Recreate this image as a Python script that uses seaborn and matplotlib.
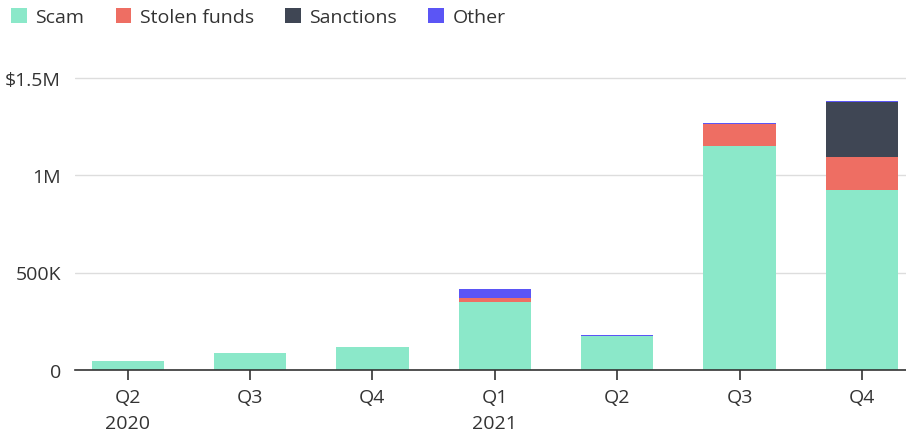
import matplotlib
matplotlib.use("Agg")
import matplotlib.pyplot as plt
import seaborn as sns
import pandas as pd
import numpy as np
from matplotlib.patches import Patch

quarters = ["Q2\n2020", "Q3", "Q4", "Q1\n2021", "Q2", "Q3", "Q4"]
quarter_keys = ["2020Q2", "2020Q3", "2020Q4", "2021Q1", "2021Q2", "2021Q3", "2021Q4"]
scam = [48000, 87000, 118000, 349000, 174000, 1149000, 923000]
stolen = [0, 0, 0, 20000, 0, 113000, 169000]
sanctions = [0, 0, 0, 0, 0, 0, 284000]
other = [0, 0, 0, 46000, 3000, 7000, 5000]

series = ["Scam", "Stolen funds", "Sanctions", "Other"]
colors = ["#8be8c9", "#ee6e63", "#3f4654", "#5b55f5"]

sns.set_theme(style="white")
plt.rcParams["font.family"] = ["Open Sans", "DejaVu Sans"]

fig = plt.figure(figsize=(9.06, 4.39), dpi=100)
ax = fig.add_axes([75/906, 1-371/439, 831/906, 312/439])

vals = np.array([scam, stolen, sanctions, other], dtype=float)
cum = np.cumsum(vals, axis=0)
df = pd.DataFrame({"quarter": quarter_keys})
for i in range(3, -1, -1):
    df["v"] = cum[i]
    sns.barplot(data=df, x="quarter", y="v", color=colors[i], width=0.59,
                saturation=1, ax=ax, order=quarter_keys, errorbar=None,
                linewidth=0, edgecolor="none")

ax.set_xlim(-0.43, 6.36)
ax.set_ylim(0, 1.6e6)
ax.set_xticks(range(len(quarters)))
ax.set_xticklabels(quarters)
ax.set_yticks([0, 500000, 1000000, 1500000])
ax.set_yticklabels(["0", "500K", "1M", "$1.5M"])
ax.yaxis.grid(True, color="#dddddd", linewidth=1)
ax.set_axisbelow(True)
for s in ["top", "right", "left"]:
    ax.spines[s].set_visible(False)
ax.spines["bottom"].set_color("#333333")
ax.spines["bottom"].set_linewidth(1.2)
ax.set_xlabel("")
ax.set_ylabel("")
ax.tick_params(axis="x", bottom=True, length=7, width=1.2, color="#333333",
               labelsize=14, labelcolor="#333333", pad=6)
ax.tick_params(axis="y", left=False, labelsize=14, labelcolor="#333333", pad=4)
for lbl in ax.get_xticklabels():
    lbl.set_linespacing(1.6)

handles = [Patch(facecolor=c, edgecolor="none") for c in colors]
fig.legend(handles, series, loc="upper left", bbox_to_anchor=(-0.007, 1.02), ncol=4,
           frameon=False, fontsize=14, handlelength=0.8, handleheight=0.8,
           handletextpad=0.45, columnspacing=1.6, labelcolor="#333333")

fig.savefig("out.png", dpi=100)
